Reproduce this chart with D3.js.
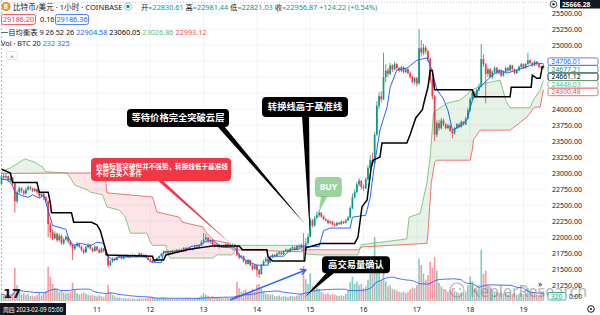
<!DOCTYPE html>
<html><head><meta charset="utf-8">
<script src="https://cdn.jsdelivr.net/npm/d3@7"></script>
<style>html,body{margin:0;padding:0;background:#fff;}svg{display:block;font-family:"Noto Sans","Noto Sans CJK SC",sans-serif;}</style>
</head><body><svg id="c" width="600" height="315"></svg>
<script>
// ---------- DATA (hour index = hours since 2023-02-09 00:00) ----------
const startHour = 5;
const firstOpen = 22830.61;
const closes = [
22956.87,22930,22950,22880,22920,22840,22560,22700,22760,22720,
22680,22740,22780,22760,22720,22750,22700,22640,22680,22620,
22560,22200,22080,21980,22050,21950,22020,21900,21960,22000,
21930,21880,21820,21860,21900,21850,21800,21760,21840,21880,
21820,21780,21850,21800,21760,21820,21780,21720,21560,21620,
21660,21640,21680,21700,21660,21690,21710,21680,21700,21720,
21690,21710,21740,21700,21720,21680,21650,21640,21610,21630,
21670,21700,21740,21770,21750,21780,21760,21790,21770,21800,
21780,21800,21830,21810,21830,21800,21820,21850,21830,21870,
21920,21960,21990,21930,21950,21890,21860,21880,21840,21870,
21850,21890,21860,21870,21880,21850,21720,21680,21700,21620,
21580,21640,21560,21500,21560,21480,21420,21560,21620,21660,
21600,21680,21720,21700,21740,21760,21730,21780,21800,21770,
21820,21840,21800,21860,21840,21880,21790,21900,22000,22260,
22180,22300,22340,22380,22320,22280,22260,22220,22240,22200,
22180,22220,22200,22240,22220,22260,22300,22450,22620,22700,
22820,22880,22780,22760,22900,23080,23200,23150,23600,24050,
24200,24150,24500,24600,24550,24680,24620,24700,24640,24600,
24650,24580,24620,24560,24500,24420,24480,24400,24950,24880,
24960,24900,24780,24450,24200,23600,23780,23700,23820,23760,
23700,23740,23660,23620,23700,23760,23720,23800,23760,23850,
23980,24150,24250,24200,24300,24350,24780,24700,24550,24620,
24500,24580,24640,24560,24600,24520,24580,24640,24600,24680,
24620,24560,24600,24660,24700,24640,24700,24760,24720,24680,
24740,24700,24660,24640,24677.21];
const highs = [
22981.44,22990,22985,22960,22940,22935,22860,22730,22790,22780,
22740,22770,22810,22800,22770,22770,22760,22720,22700,22690,
22640,22570,22230,22120,22090,22070,22060,22040,21990,22030,
22010,21950,21900,21880,21920,21910,21870,21820,21860,21900,
21890,21840,21870,21860,21820,21840,21830,21790,21730,21640,
21680,21680,21700,21720,21710,21700,21730,21720,21710,21740,
21730,21720,21760,21750,21730,21730,21690,21670,21650,21640,
21680,21710,21750,21790,21780,21790,21790,21800,21800,21810,
21810,21820,21840,21840,21850,21840,21830,21870,21860,21880,
21950,22060,22050,22000,21970,21960,21900,21900,21890,21880,
21880,21900,21900,21890,21900,21890,21860,21740,21720,21710,
21640,21660,21650,21580,21580,21570,21500,21580,21640,21680,
21670,21700,21740,21740,21760,21780,21770,21790,21820,21810,
21830,21860,21850,21870,21880,21900,22060,21980,22050,22300,
22280,22330,22400,22420,22390,22340,22300,22280,22260,22250,
22230,22240,22240,22260,22250,22280,22330,22480,22680,22740,
22860,22920,22890,22820,22930,23120,23280,23320,23640,24120,
24260,24280,24880,24700,24640,24720,24700,24740,24720,24660,
24680,24670,24640,24640,24580,24520,24500,24500,25250,25080,
25020,24990,24920,24800,24480,24220,23820,23830,23860,23850,
23780,23770,23760,23680,23720,23780,23780,23820,23810,23880,
24020,24180,24300,24280,24320,24400,25020,24850,24720,24660,
24640,24600,24670,24660,24620,24610,24600,24660,24660,24700,
24690,24630,24620,24680,24720,24710,24720,24880,24780,24730,
24760,24750,24710,24680,24700];
const lows = [
22821.03,22900,22910,22860,22860,22800,22380,22520,22680,22690,
22650,22660,22720,22730,22700,22700,22670,22600,22620,22580,
22530,22000,21980,21950,21960,21920,21930,21880,21880,21940,
21900,21850,21640,21790,21840,21830,21770,21730,21750,21820,
21800,21760,21770,21780,21740,21750,21760,21700,21520,21540,
21600,21620,21630,21670,21650,21650,21680,21670,21670,21690,
21680,21680,21700,21690,21690,21670,21640,21620,21590,21600,
21620,21660,21690,21730,21740,21740,21750,21750,21760,21760,
21770,21770,21790,21800,21800,21790,21790,21810,21820,21820,
21860,21910,21940,21910,21900,21870,21840,21850,21820,21830,
21840,21840,21850,21850,21860,21830,21700,21650,21660,21600,
21560,21570,21540,21480,21490,21380,21360,21410,21550,21600,
21580,21590,21670,21680,21690,21720,21720,21720,21770,21760,
21760,21800,21790,21790,21820,21830,21640,21760,21880,21990,
22150,22160,22280,22310,22300,22260,22240,22200,22200,22180,
22160,22170,22190,22190,22200,22210,22250,22290,22430,22600,
22680,22790,22740,22720,22750,22880,23050,23100,23140,23580,
24000,24100,24140,24420,24500,24530,24580,24600,24620,24570,
24580,24560,24560,24540,24470,24400,24380,24350,24380,24820,
24840,24850,24740,24400,24150,23500,23560,23660,23680,23730,
23680,23690,23640,23540,23600,23690,23700,23710,23740,23750,
23840,23960,24120,24170,24180,24280,24340,24660,24090,24500,
24480,24470,24560,24540,24540,24500,24510,24560,24580,24590,
24600,24540,24550,24590,24640,24620,24630,24690,24700,24660,
24670,24680,24640,24620,24630];
const volumes = [
232,180,150,210,160,260,1090,520,300,220,
250,200,240,160,180,150,200,280,190,260,
340,1120,800,560,420,380,300,360,280,240,
260,300,600,380,260,220,240,280,250,200,
180,200,170,150,190,160,140,220,530,300,
200,150,120,110,100,90,80,90,70,80,
70,60,90,80,70,90,110,120,140,100,
90,80,110,130,90,80,70,80,60,70,
60,70,90,80,70,90,80,100,90,120,
180,260,200,170,140,160,130,110,120,100,
90,110,100,90,120,160,630,420,300,350,
380,260,320,400,300,530,560,420,300,240,
220,200,220,160,150,180,140,160,150,130,
170,160,150,180,200,260,1150,720,560,900,
500,420,450,400,300,250,220,260,200,230,
210,180,160,190,170,240,330,620,800,560,
640,520,560,420,480,700,900,1250,2100,1350,
920,700,1100,650,480,520,400,380,340,300,
280,320,260,300,380,450,420,520,1400,1180,
900,700,850,1290,1100,1450,1000,600,480,400,
380,300,350,420,330,300,250,280,240,320,
520,800,650,420,380,450,1680,900,1000,520,
480,360,320,300,260,280,240,260,220,280,
240,260,200,240,260,220,240,420,300,260,
240,220,200,240,320];
// Ichimoku (9 26 52 26) lines: [hour, price]
const conversionLine = [[5,22905],[8,22890],[10,22800],[11,22700],[14,22650],[17,22620],[19,22660],[22,22610],[24,22650],[26,22420],[28,22180],[34,22120],[35,22000],[37,21870],[41,21900],[45,21860],[48,21920],[51,21900],[53,21700],[55,21640],[58,21690],[70,21690],[72,21610],[77,21600],[78,21770],[88,21780],[90,21850],[95,21880],[97,21930],[100,21950],[102,21900],[104,21840],[110,21830],[113,21680],[117,21600],[120,21560],[125,21560],[126,21700],[132,21700],[135,21800],[139,21810],[141,21860],[143,21850],[148,21850],[150,22100],[153,22140],[162,22140],[163,22310],[169,22340],[171,22620],[173,23150],[175.4,23670],[178.6,24030],[180,24340],[183,24610],[187.6,24640],[192,24760],[196.6,24800],[198.8,24610],[201,24300],[203.8,24170],[206,23980],[208,23670],[211,23720],[214.6,23830],[217,24140],[220.4,24340],[226,24530],[229.4,24610],[232.6,24560],[241.6,24660],[246,24720],[249,24706.01]];
const baseLine = [[5,23060.05],[9,23000],[10,22850],[21,22850],[22,22700],[26,22700],[27,22530],[27.5,22380],[36.5,22380],[37.5,22230],[45.5,22230],[48,22190],[49.5,22100],[52.5,21720],[73,21700],[73.5,21640],[78,21640],[79,21720],[88.5,21800],[94,21830],[100,21860],[112,21860],[113.5,21800],[124.5,21800],[125,21690],[127,21625],[141.5,21625],[142,21830],[147,21880],[149,21900],[164,21900],[165.5,22000],[167.3,22470],[169.6,22580],[171.5,23100],[172.3,23200],[175.4,23250],[176.3,23470],[187.5,23470],[189,23600],[191.5,23860],[194.5,23990],[195.5,24140],[197,24340],[198,24600],[199,24600],[200,24300],[217,24300],[218,24190],[234,24190],[234.5,24340],[243.5,24340],[244,24530],[246,24480],[247.5,24480],[248.5,24661.12],[249,24661.12]];
const leadingSpanA = [[5,23026.86],[9,23080],[15.5,23220],[20,23170],[23.5,23090],[25,23020],[34.5,23000],[36,22920],[38,22810],[44,22730],[45,22700],[50.5,22660],[52.5,22470],[58,22420],[60.5,22330],[61.5,22230],[63,22060],[70.5,22060],[72,21920],[73,21870],[79,21870],[80,21720],[81,21670],[100,21670],[102,21720],[109,21720],[111.5,21870],[139.5,21870],[141,21740],[148,21720],[165.5,21720],[167,21880],[187.5,21970],[188.5,22310],[193.5,22370],[196.5,22840],[198,23250],[199.5,23940],[201,23980],[205.5,24090],[211.5,24140],[217,24300],[223.5,24410],[229.5,24450],[232,24140],[234,24020],[243,24020],[244.5,24140],[247.5,24300],[249,24448.03]];
const leadingSpanB = [[5,22993.12],[34.5,23000],[51.5,23000],[52.5,22690],[73,22625],[75,22390],[85,22310],[86.5,22230],[95.5,22160],[97.5,22060],[100.5,21950],[108,21900],[109,21800],[139.5,21770],[141,21800],[165.5,21800],[167.5,21845],[196.5,21900],[197,22060],[198.5,22840],[200,23160],[201,23200],[216,23200],[217,23360],[217.5,23520],[220.5,23670],[234,23670],[241.5,23870],[245,24030],[247.5,24030],[249,24300.48]];
const priceTicks = [21250,21500,21750,22000,22250,22500,22750,23000,23250,23500,23750,24000,24250,24500,24750,25000,25250,25500];
const dayHours = [24,48,72,96,120,144,168,192,216,240];
const dayLabels = ["10","11","12","13","14","15","16","17","18","19"];
const highLine = 25666.28;
const lastVolume = 320;

// ---------- SCALES ----------
const plotR = 547, plotB = 302;
const x = d3.scaleLinear().domain([0, 240]).range([-9.6, -9.6 + 240 * 2.221]);
const y = d3.scaleLinear().domain([21500, 25500]).range([269, 13]);
const yv = d3.scaleLinear().domain([0, 2300]).range([301, 231]);
const UP = "#089981", DN = "#f23645", TXT = "#131722";

const svg = d3.select("#c");
const defs = svg.append("defs");
defs.append("clipPath").attr("id","plot").append("rect").attr("x",0).attr("y",0).attr("width",plotR).attr("height",plotB);
const g = svg.append("g").attr("clip-path","url(#plot)");

// grid
g.selectAll("line.h").data(priceTicks).join("line").attr("class","h")
 .attr("x1",0).attr("x2",plotR).attr("y1",d=>y(d)).attr("y2",d=>y(d)).attr("stroke","#f0f3fa");
g.selectAll("line.v").data(dayHours).join("line").attr("class","v")
 .attr("x1",d=>x(d)).attr("x2",d=>x(d)).attr("y1",0).attr("y2",plotB).attr("stroke","#f0f3fa");

// cloud
const fA = d3.scaleLinear().domain(leadingSpanA.map(d=>d[0])).range(leadingSpanA.map(d=>d[1])).clamp(true);
const fB = d3.scaleLinear().domain(leadingSpanB.map(d=>d[0])).range(leadingSpanB.map(d=>d[1])).clamp(true);
const ts = Array.from(new Set([...leadingSpanA, ...leadingSpanB].map(d=>d[0]))).sort((a,b)=>a-b);
const cloud = ts.map(t=>({t, a:fA(t), b:fB(t)}));
defs.append("clipPath").attr("id","aboveB").append("path").attr("d", d3.area().x(d=>x(d.t)).y0(-10).y1(d=>y(d.b))(cloud));
defs.append("clipPath").attr("id","belowB").append("path").attr("d", d3.area().x(d=>x(d.t)).y0(400).y1(d=>y(d.b))(cloud));
const cArea = d3.area().x(d=>x(d.t)).y0(d=>y(d.b)).y1(d=>y(d.a));
g.append("g").attr("clip-path","url(#aboveB)").append("path").attr("d",cArea(cloud)).attr("fill","rgba(67,160,71,0.13)");
g.append("g").attr("clip-path","url(#belowB)").append("path").attr("d",cArea(cloud)).attr("fill","rgba(242,54,69,0.13)");

// candles data
const candles = closes.map((c,k)=>({t:startHour+k, o:k?closes[k-1]:firstOpen, c, h:highs[k], l:lows[k], v:volumes[k]}));

// volume
g.selectAll("rect.vol").data(candles).join("rect").attr("class","vol")
 .attr("x",d=>x(d.t)-0.8).attr("width",1.6).attr("y",d=>yv(d.v)).attr("height",d=>yv(0)-yv(d.v))
 .attr("fill",d=>d.c>=d.o?"rgba(8,153,129,0.5)":"rgba(242,54,69,0.5)");
const volMA = candles.map((d,k)=>({t:d.t, v:d3.mean(volumes.slice(Math.max(0,k-19),k+1))}));
g.append("path").attr("d", d3.line().x(d=>x(d.t)).y(d=>yv(d.v))(volMA)).attr("fill","none").attr("stroke","#2962ff").attr("stroke-width",0.9);

// spans
const ln = d3.line().x(d=>x(d[0])).y(d=>y(d[1]));
g.append("path").attr("d",ln(leadingSpanA)).attr("fill","none").attr("stroke","#66bb6a").attr("stroke-width",0.8);
g.append("path").attr("d",ln(leadingSpanB)).attr("fill","none").attr("stroke","#ef5350").attr("stroke-width",0.8);

// candles
const cg = g.append("g");
cg.selectAll("line").data(candles).join("line")
 .attr("x1",d=>x(d.t)).attr("x2",d=>x(d.t)).attr("y1",d=>y(Math.max(d.h,d.o,d.c))).attr("y2",d=>y(Math.min(d.l,d.o,d.c)))
 .attr("stroke",d=>d.c>=d.o?UP:DN).attr("stroke-width",0.8);
cg.selectAll("rect").data(candles).join("rect")
 .attr("x",d=>x(d.t)-0.85).attr("width",1.7)
 .attr("y",d=>y(Math.max(d.o,d.c))).attr("height",d=>Math.max(0.8, Math.abs(y(d.o)-y(d.c))))
 .attr("fill",d=>d.c>=d.o?UP:DN);

// conversion & base
g.append("path").attr("d",ln(conversionLine)).attr("fill","none").attr("stroke","#2962ff").attr("stroke-width",1);
g.append("path").attr("d",ln(baseLine)).attr("fill","none").attr("stroke","#000").attr("stroke-width",1.5);

// crosshair + high line
g.append("line").attr("x1",x(startHour)).attr("x2",x(startHour)).attr("y1",0).attr("y2",plotB).attr("stroke","#9598a1").attr("stroke-width",0.7).attr("stroke-dasharray","2,2");
g.append("line").attr("x1",0).attr("x2",plotR).attr("y1",y(highLine)).attr("y2",y(highLine)).attr("stroke","#b2b5be").attr("stroke-width",0.8).attr("stroke-dasharray","1,2");

// ---------- annotations ----------
const callouts = [
 {lines:["价格短暂突破但并不强势，转换线低于基准线","不符合买入条件"], t:45.3, p:23234, w:140, h:23, tipT:108.8, tipP:21875, base:[66,71], fill:"#f23645", fs:6.6, align:"left", b0:10.5, gap:7.2},
 {lines:["等待价格完全突破云层"], t:61.5, p:24000, w:102, h:18, tipT:141.6, tipP:22203, base:[90,97], fill:"#000", fs:9.3},
 {lines:["转换线高于基准线"], t:122.3, p:24187, w:86, h:20, tipT:143.9, tipP:22016, base:[40,47], fill:"#000", fs:9.3},
 {lines:["BUY"], t:146.1, p:22938, w:27, h:20, tipT:147.95, tipP:22391, base:[6,13], fill:"rgba(102,187,106,0.65)", fs:8.5},
 {lines:["高交易量确认"], t:149.3, p:21700, w:68, h:17, tipT:141.6, tipP:21062, base:[5,13], fill:"#000", fs:9.3}
];
const ag = svg.append("g");
callouts.forEach(c=>{
  const bx=x(c.t), by=y(c.p), tx=x(c.tipT), ty=y(c.tipP);
  ag.append("path").attr("d",`M${bx+c.base[0]},${by+c.h-1}L${tx},${ty}L${bx+c.base[1]},${by+c.h-1}Z`).attr("fill",c.fill);
  ag.append("rect").attr("x",bx).attr("y",by).attr("width",c.w).attr("height",c.h).attr("rx",4).attr("fill",c.fill);
  c.lines.forEach((s,i)=>{
    const left = c.align==="left";
    ag.append("text").text(s)
      .attr("x", left? bx+5 : bx+c.w/2).attr("text-anchor", left?"start":"middle")
      .attr("y", left? by+c.b0+i*c.gap : by+c.h/2+c.fs*0.36)
      .attr("font-size",c.fs).attr("font-weight","bold").attr("fill","#fff");
  });
});
// blue arrow
{
  const x1=x(107.9), y1=y(21016), x2=x(142), y2=y(21484);
  ag.append("line").attr("x1",x1).attr("y1",y1).attr("x2",x2).attr("y2",y2).attr("stroke","#2962ff").attr("stroke-width",1.5);
  const a=Math.atan2(y2-y1,x2-x1), L=6;
  const p1=[x2-L*Math.cos(a-0.5), y2-L*Math.sin(a-0.5)], p2=[x2-L*Math.cos(a+0.5), y2-L*Math.sin(a+0.5)];
  ag.append("path").attr("d",`M${p1}L${x2},${y2}L${p2}`).attr("fill","none").attr("stroke","#2962ff").attr("stroke-width",1.5);
}

// watermark
const wm = svg.append("g").attr("opacity",0.55);
wm.append("circle").attr("cx",457).attr("cy",290).attr("r",7).attr("fill","none").attr("stroke","#787b86").attr("stroke-width",1.2);
wm.append("circle").attr("cx",454).attr("cy",289).attr("r",1).attr("fill","#787b86");
wm.append("circle").attr("cx",460).attr("cy",289).attr("r",1).attr("fill","#787b86");
wm.append("text").text("KeplerResearch").attr("x",470).attr("y",297).attr("font-size",16).attr("fill","#787b86");

// TV logo
svg.append("text").text("17").attr("x",3).attr("y",298).attr("font-size",13).attr("font-weight",900).attr("fill",TXT).attr("font-family","DejaVu Sans");

// ---------- right axis ----------
const ax = svg.append("g").attr("font-size",7).attr("fill",TXT);
ax.selectAll("text").data(priceTicks).join("text").attr("x",552).attr("y",d=>y(d)+2.5).text(d=>d3.format(".2f")(d));
// last-value labels
const tags = [
 {v:24706.01, c:"#2962ff"},{v:24677.21, c:UP},{v:24661.12, c:"#000"},{v:24448.03, c:"#66bb6a"},{v:24300.48, c:"#ef5350"}
];
let prev=-1e9;
tags.forEach(d=>{ let py=y(d.v); if(py<prev+7.6) py=prev+7.6; prev=py; d.py=py; });
const shift = (tags[0].py + tags[tags.length-1].py)/2 - (y(tags[0].v)+y(tags[tags.length-1].v))/2;
tags.forEach(d=>{
  const py=d.py-shift;
  ax.append("rect").attr("x",548).attr("y",py-3.7).attr("width",50).attr("height",7.4).attr("rx",1.5).attr("fill","#fff").attr("stroke",d.c).attr("stroke-width",0.8);
  ax.append("text").attr("x",551.5).attr("y",py+2.4).text(d3.format(".2f")(d.v)).attr("fill",d.c).attr("font-size",6.8);
});
ax.append("rect").attr("x",548).attr("y",292.5).attr("width",18).attr("height",7.5).attr("rx",1.5).attr("fill","#fff").attr("stroke",UP).attr("stroke-width",0.8);
ax.append("text").attr("x",551).attr("y",298.5).text(lastVolume).attr("fill",UP).attr("font-size",6.5);
ax.append("text").attr("x",569).attr("y",299).text("0.00").attr("font-size",6.5);
ax.append("text").attr("x",538).attr("y",287).text("»").attr("font-size",8);
// high tag
ax.append("rect").attr("x",560).attr("y",0).attr("width",40).attr("height",8.5).attr("fill",TXT);
ax.append("text").attr("x",562).attr("y",6.6).text(d3.format(".2f")(highLine)).attr("fill","#fff").attr("font-weight","bold").attr("font-size",6.6);
ax.append("circle").attr("cx",553.5).attr("cy",4.3).attr("r",3.3).attr("fill","none").attr("stroke",TXT).attr("stroke-width",0.8);
ax.append("circle").attr("cx",553.5).attr("cy",4.3).attr("r",1.2).attr("fill",TXT);

// ---------- time axis ----------
const tx = svg.append("g").attr("font-size",7).attr("fill",TXT);
tx.selectAll("text").data(dayHours.slice(1)).join("text").attr("x",d=>x(d)).attr("y",312).attr("text-anchor","middle").text((d,i)=>dayLabels[i+1]);
tx.append("rect").attr("x",0).attr("y",303).attr("width",66).attr("height",12).attr("fill",TXT);
tx.append("text").attr("x",3).attr("y",311.5).attr("fill","#fff").attr("font-size",6.2).attr("textLength",60).attr("lengthAdjust","spacingAndGlyphs").text("周四 2023-02-09 05:00");
tx.append("circle").attr("cx",591).attr("cy",309).attr("r",3.3).attr("fill","none").attr("stroke",TXT).attr("stroke-width",1);
tx.append("circle").attr("cx",591).attr("cy",309).attr("r",1).attr("fill",TXT);

// ---------- header ----------
const hd = svg.append("g").attr("font-size",7.3).attr("fill",TXT);
hd.append("circle").attr("cx",6).attr("cy",6.5).attr("r",4.6).attr("fill","#f7931a");
hd.append("text").attr("x",6).attr("y",9).attr("text-anchor","middle").attr("font-size",6.5).attr("font-weight","bold").attr("fill","#fff").text("B");
hd.append("text").attr("x",13).attr("y",9.5).attr("font-size",7.6).text("比特币/美元 · 1小时 · COINBASE");
hd.append("circle").attr("cx",128).attr("cy",6.5).attr("r",3.6).attr("fill","none").attr("stroke","rgba(8,153,129,0.3)").attr("stroke-width",1.6);
hd.append("circle").attr("cx",128).attr("cy",6.5).attr("r",1.7).attr("fill",UP);
const ohlc = hd.append("text").attr("x",141).attr("y",9.5);
[["开",TXT],["=22830.61 ",UP],["高",TXT],["=22981.44 ",UP],["低",TXT],["=22821.03 ",UP],["收",TXT],["=22956.87 +124.22 (+0.54%)",UP]]
 .forEach(([s,c])=>ohlc.append("tspan").text(s).attr("fill",c));
hd.append("rect").attr("x",1.5).attr("y",14.5).attr("width",34).attr("height",10).attr("rx",2).attr("fill","#fff").attr("stroke",DN).attr("stroke-width",0.8);
hd.append("text").attr("x",18.5).attr("y",22).attr("text-anchor","middle").attr("fill",DN).text("29186.20");
hd.append("text").attr("x",40).attr("y",22).text("0.16");
hd.append("rect").attr("x",55.5).attr("y",14.5).attr("width",33).attr("height",10).attr("rx",2).attr("fill","#fff").attr("stroke","#2962ff").attr("stroke-width",0.8);
hd.append("text").attr("x",72).attr("y",22).attr("text-anchor","middle").attr("fill","#2962ff").text("29186.36");
const l3 = hd.append("text").attr("x",1).attr("y",35);
[["一目均衡表 9 26 52 26 ",TXT],["22904.58 ","#2962ff"],["23060.05 ","#000"],["23026.86 ","#66bb6a"],["22993.12","#ef5350"]]
 .forEach(([s,c])=>l3.append("tspan").text(s).attr("fill",c));
const l4 = hd.append("text").attr("x",1).attr("y",46);
[["Vol · BTC 20 ",TXT],["232 ",UP],["325","#2962ff"]].forEach(([s,c])=>l4.append("tspan").text(s).attr("fill",c));
hd.append("rect").attr("x",6.5).attr("y",51.5).attr("width",11).attr("height",8).attr("rx",2).attr("fill","#fff").attr("stroke","#e0e3eb");
hd.append("text").attr("x",12).attr("y",58.5).attr("text-anchor","middle").attr("font-size",6).text("^");
</script></body></html>
